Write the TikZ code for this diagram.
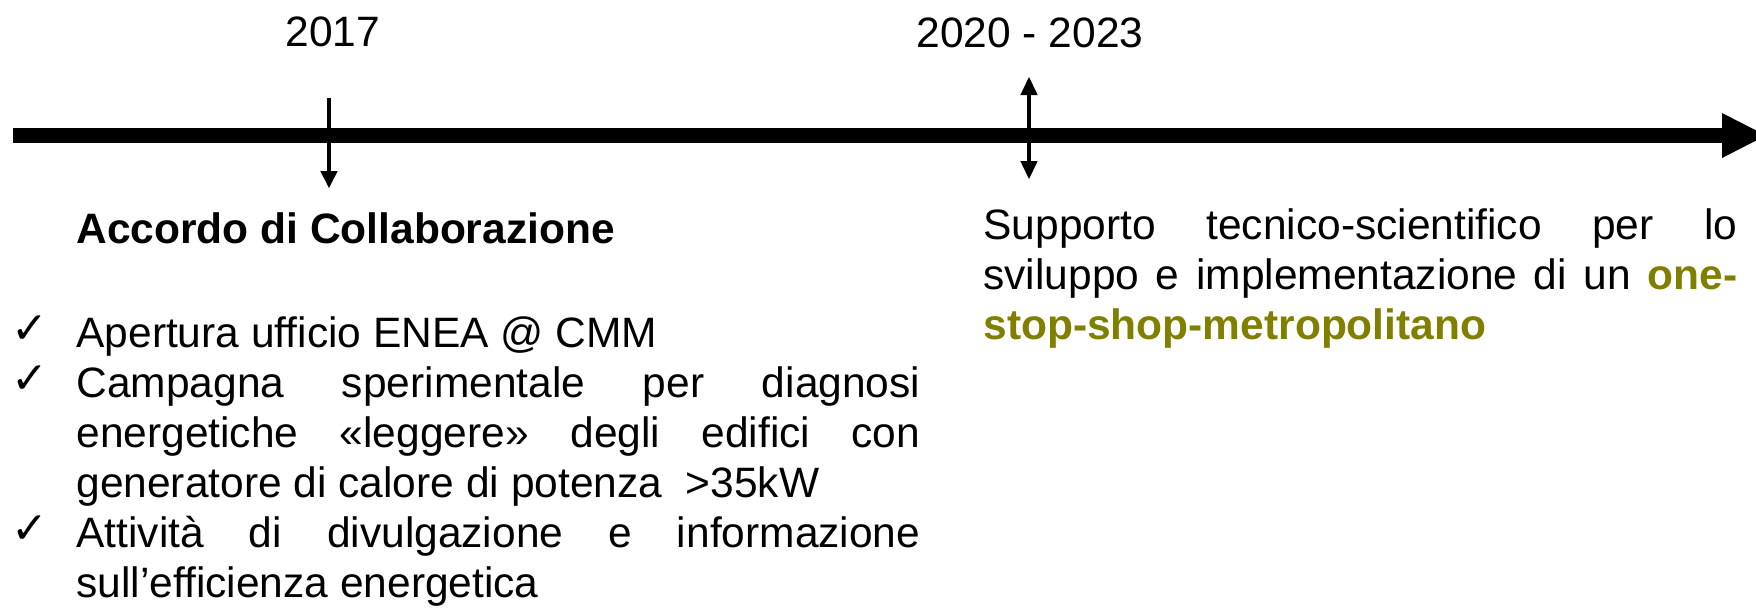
\documentclass[tikz,border=0pt]{standalone}
\usepackage{fontspec}
\setmainfont{Liberation Sans}[Ligatures={TeX,CommonOff}]
\newfontfamily\checkfont{DejaVu Sans}
\definecolor{oneshop}{RGB}{128,128,0}
\tolerance=10000
\hyphenpenalty=10000
\exhyphenpenalty=10000

\begin{document}
\begin{tikzpicture}[x=0.5pt,y=-0.5pt]
\tikzstyle{every node}+=[inner sep=0pt]
\tikzstyle{txt}=[font=\fontsize{21.25}{25}\selectfont]
\tikzstyle{tick}=[font=\checkfont\fontsize{22}{24}\selectfont, anchor=base west]
\tikzstyle{item}=[txt, anchor=base west, align=justify]
\useasboundingbox (0,0) rectangle (1756,607);
% time axis
\coordinate (a0) at (13,135.5);
\coordinate (a1) at (1722,135.5);
\draw [black, line width=7.25pt] (a0) -- (a1);
\fill [black] (a1) ++(0,-22.5) -- ++(44,22.5) -- ++(-44,22.5) -- cycle;
% 2017
\node [txt, anchor=base] (y17) at (333,46) {2017};
\coordinate (p17) at (329,98);
\coordinate (q17) at (329,171);
\draw [black, line width=1.75pt] (p17) -- (q17);
\fill [black] (q17) ++(-8.7,0) -- ++(17.4,0) -- ++(-8.7,17) -- cycle;
% 2020 - 2023
\node [txt, anchor=base] (y20) at (1030,47) {2020 - 2023};
\coordinate (p20) at (1029,95);
\coordinate (q20) at (1029,161);
\draw [black, line width=1.75pt] (p20) -- (q20);
\fill [black] (p20) ++(-8.7,0) -- ++(17.4,0) -- ++(-8.7,-18) -- cycle;
\fill [black] (q20) ++(-8.7,0) -- ++(17.4,0) -- ++(-8.7,18) -- cycle;
% left block
\node [txt, anchor=base west] (acc) at (76,243) {\bfseries Accordo di Collaborazione};
\node [tick] (c1) at (11,343) {✓};
\node [item, text width=422pt] (t1) at (76,347) {Apertura ufficio ENEA @ CMM};
\node [tick] (c2) at (11,393) {✓};
\node [item, text width=422pt] (t2) at (76,397) {Campagna sperimentale per diagnosi\linebreak
  energetiche «leggere» degli edifici con\linebreak
  generatore di calore di potenza\ \ >35kW};
\node [tick] (c3) at (11,543) {✓};
\node [item, text width=422pt] (t3) at (76,547) {Attività di divulgazione e informazione\linebreak
  sull’efficienza energetica};
% right block
\node [item, text width=377pt] (sup) at (983,239) {Supporto tecnico-scientifico per lo\linebreak
  sviluppo e implementazione di un {\color{oneshop}\bfseries one-}\linebreak
  {\color{oneshop}\bfseries stop-shop-metropolitano}};
\end{tikzpicture}
\end{document}
